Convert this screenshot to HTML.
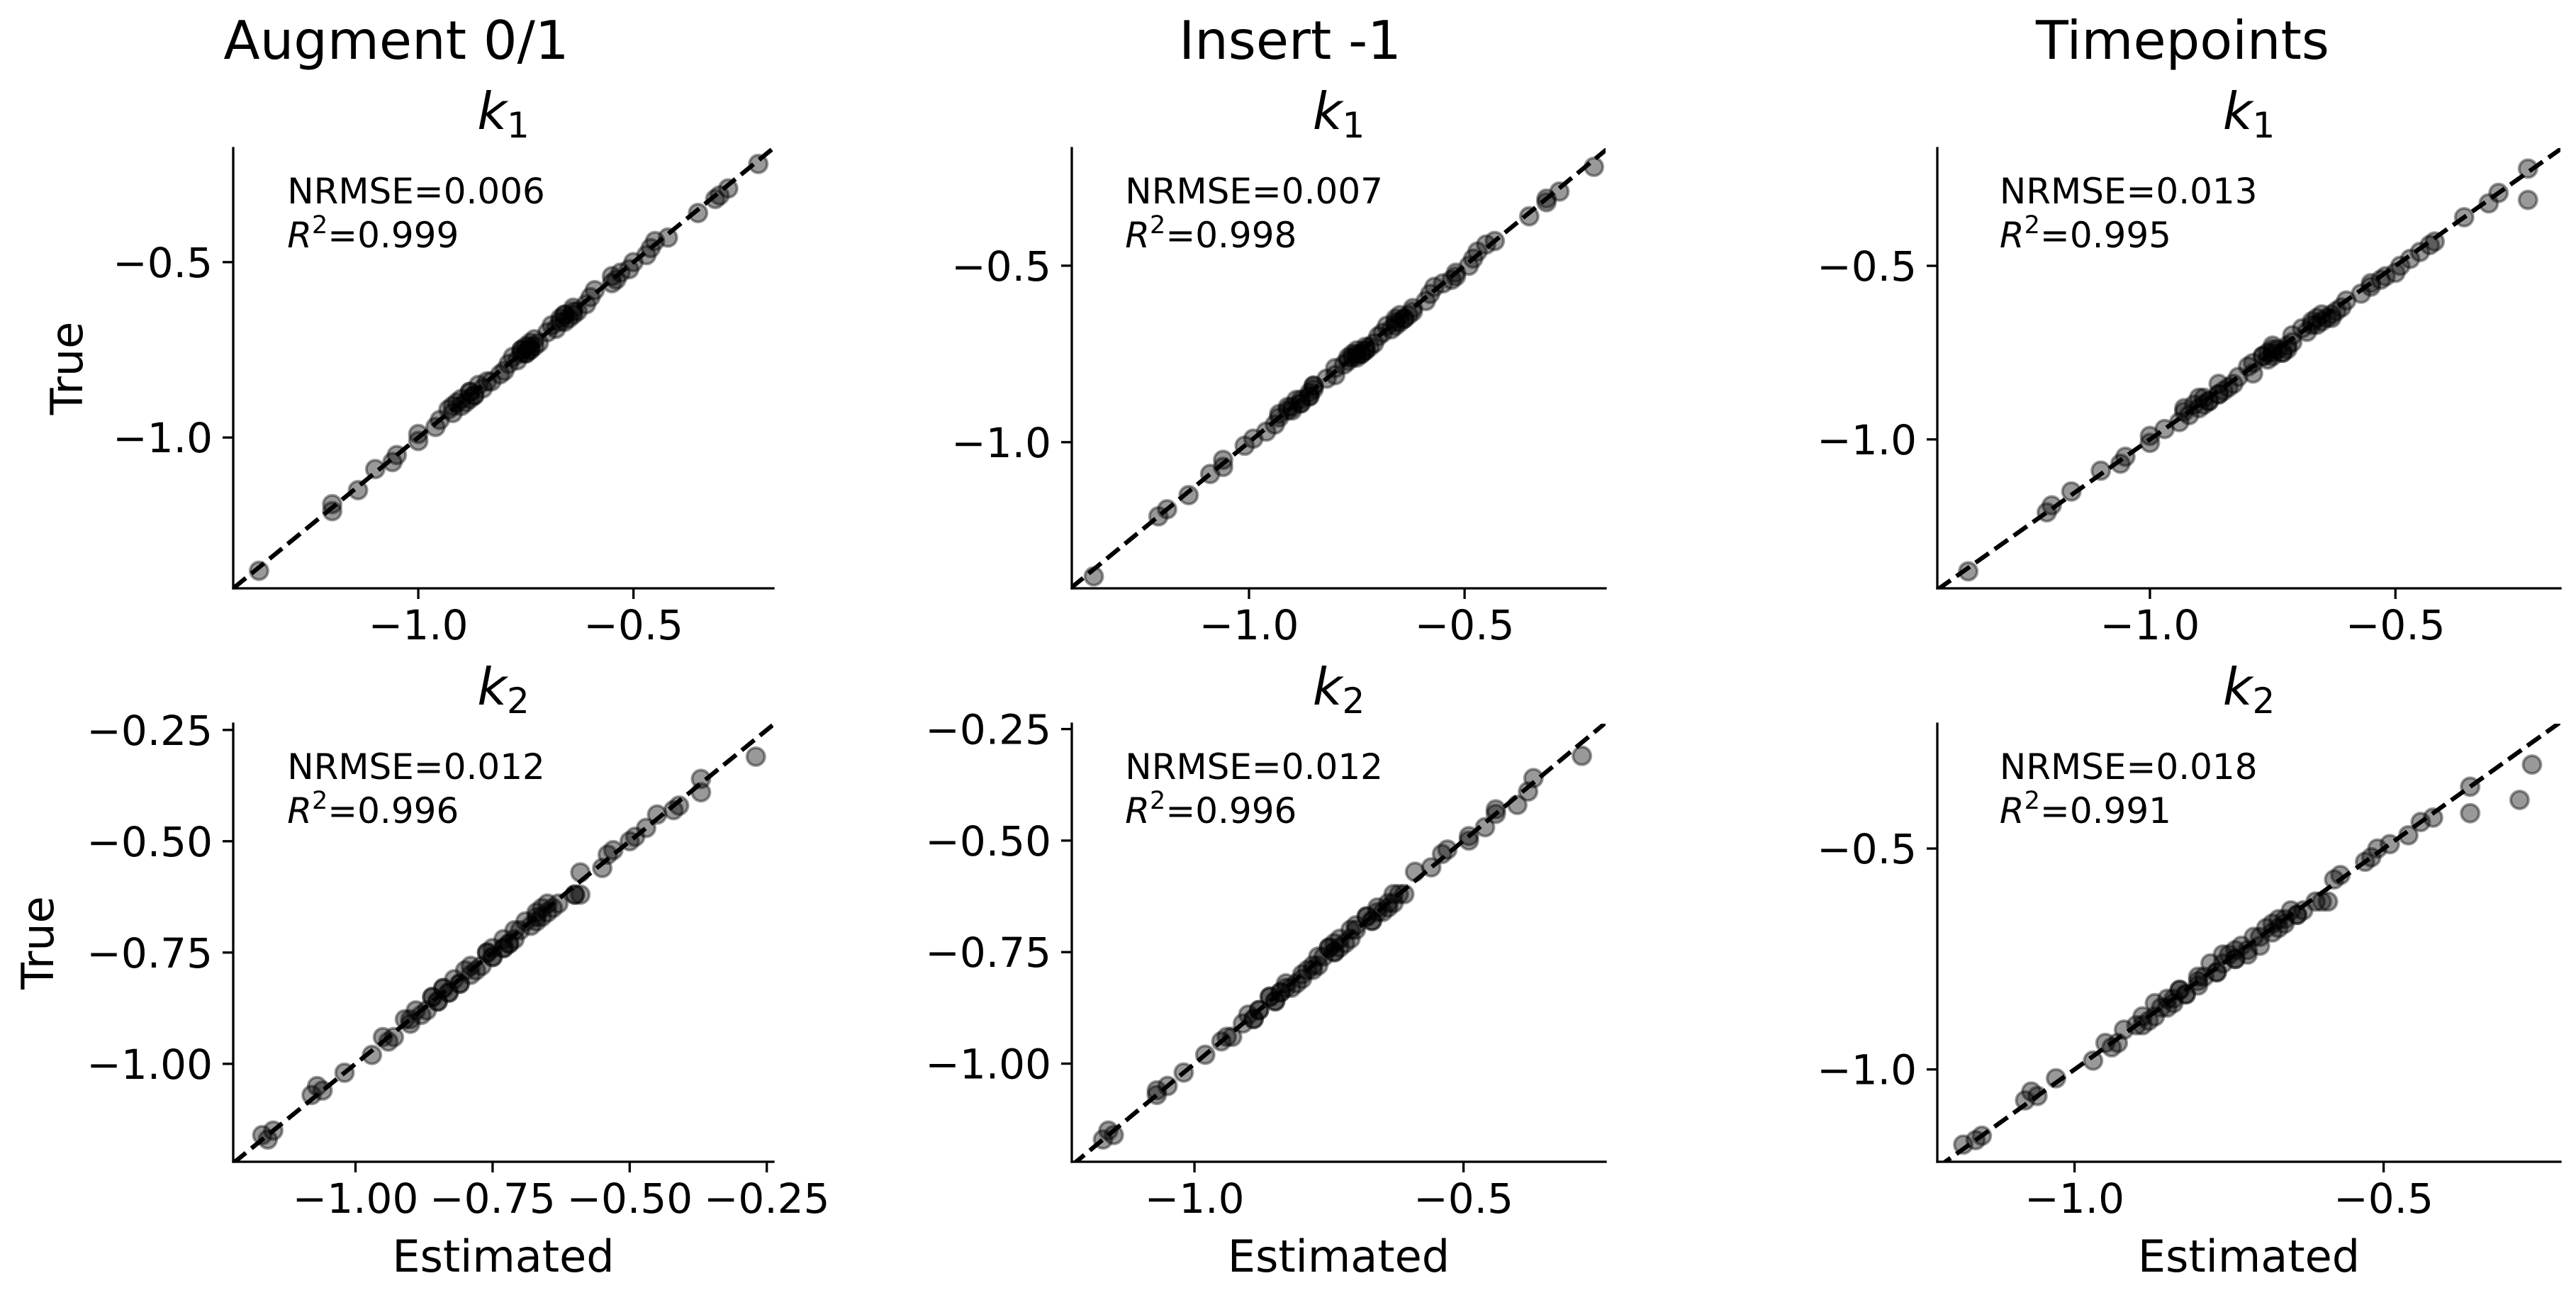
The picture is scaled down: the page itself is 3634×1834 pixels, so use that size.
<!DOCTYPE html>
<html><head><meta charset="utf-8">
<style>
html,body{margin:0;padding:0;background:#fff;}
svg{display:block;font-family:"DejaVu Sans","Liberation Sans",sans-serif;}
</style></head>
<body>
<svg id="fig" width="3634" height="1834" viewBox="0 0 3634 1834" xmlns="http://www.w3.org/2000/svg">
<rect width="3634" height="1834" fill="#fff"/>
<text x="559" y="83" font-size="75" text-anchor="middle">Augment 0/1</text>
<text x="1820" y="83" font-size="75" text-anchor="middle">Insert -1</text>
<text x="3079" y="83" font-size="75" text-anchor="middle">Timepoints</text>
</svg>
<script>
const NS = "http://www.w3.org/2000/svg";
const svg = document.getElementById('fig');

const k1True = [-1.38,-1.21,-1.19,-1.15,-1.09,-1.07,-1.05,-1.01,-0.99,-0.97,-0.95,-0.92,-0.91,-0.90,-0.89,-0.88,-0.87,-0.86,-0.84,-0.82,-0.81,-0.79,-0.77,-0.76,-0.75,-0.75,-0.74,-0.73,-0.72,-0.70,-0.69,-0.67,-0.66,-0.65,-0.64,-0.62,-0.60,-0.58,-0.55,-0.53,-0.52,-0.50,-0.48,-0.46,-0.44,-0.43,-0.36,-0.32,-0.31,-0.29,-0.22,
 -0.93,-0.91,-0.90,-0.89,-0.88,-0.87,-0.85,-0.84,-0.78,-0.76,-0.76,-0.75,-0.75,-0.74,-0.74,-0.73,-0.68,-0.67,-0.66,-0.65,-0.65,-0.64,-0.63,-0.56,-0.54];
const k1EstAug = [-1.37,-1.20,-1.20,-1.14,-1.10,-1.06,-1.05,-1.00,-1.00,-0.96,-0.95,-0.93,-0.90,-0.91,-0.88,-0.87,-0.88,-0.85,-0.84,-0.81,-0.80,-0.79,-0.78,-0.75,-0.76,-0.74,-0.74,-0.72,-0.73,-0.70,-0.68,-0.67,-0.65,-0.66,-0.64,-0.61,-0.60,-0.59,-0.54,-0.53,-0.51,-0.50,-0.47,-0.46,-0.45,-0.42,-0.35,-0.31,-0.30,-0.28,-0.21,
 -0.92,-0.92,-0.89,-0.90,-0.87,-0.88,-0.86,-0.83,-0.77,-0.76,-0.75,-0.76,-0.74,-0.75,-0.73,-0.74,-0.69,-0.66,-0.67,-0.64,-0.66,-0.63,-0.64,-0.55,-0.55];
const k1EstIns = [-1.36,-1.21,-1.19,-1.14,-1.09,-1.06,-1.06,-1.01,-0.99,-0.96,-0.94,-0.93,-0.91,-0.90,-0.88,-0.88,-0.86,-0.86,-0.85,-0.82,-0.80,-0.80,-0.77,-0.76,-0.75,-0.74,-0.73,-0.73,-0.71,-0.70,-0.69,-0.66,-0.66,-0.64,-0.63,-0.62,-0.59,-0.58,-0.55,-0.52,-0.52,-0.49,-0.48,-0.47,-0.45,-0.43,-0.35,-0.31,-0.31,-0.28,-0.20,
 -0.93,-0.90,-0.91,-0.88,-0.89,-0.86,-0.85,-0.85,-0.78,-0.75,-0.77,-0.74,-0.76,-0.73,-0.75,-0.72,-0.67,-0.68,-0.65,-0.66,-0.64,-0.65,-0.62,-0.57,-0.53];
const k1EstTime = [-1.37,-1.21,-1.20,-1.16,-1.10,-1.06,-1.05,-1.00,-1.00,-0.97,-0.94,-0.93,-0.90,-0.91,-0.88,-0.89,-0.86,-0.85,-0.83,-0.82,-0.79,-0.80,-0.76,-0.77,-0.75,-0.73,-0.74,-0.72,-0.71,-0.71,-0.68,-0.67,-0.65,-0.64,-0.63,-0.61,-0.60,-0.57,-0.55,-0.52,-0.50,-0.49,-0.47,-0.45,-0.43,-0.42,-0.36,-0.31,-0.23,-0.29,-0.23,
 -0.92,-0.93,-0.89,-0.88,-0.90,-0.86,-0.84,-0.86,-0.79,-0.75,-0.77,-0.76,-0.73,-0.75,-0.72,-0.75,-0.69,-0.66,-0.67,-0.66,-0.63,-0.65,-0.62,-0.55,-0.53];

const k2True = [-1.17,-1.16,-1.15,-1.07,-1.06,-1.05,-1.02,-0.98,-0.95,-0.94,-0.94,-0.90,-0.89,-0.88,-0.86,-0.85,-0.84,-0.83,-0.82,-0.80,-0.79,-0.78,-0.76,-0.75,-0.74,-0.73,-0.72,-0.70,-0.68,-0.67,-0.66,-0.65,-0.64,-0.62,-0.62,-0.57,-0.56,-0.53,-0.52,-0.50,-0.49,-0.47,-0.44,-0.43,-0.42,-0.39,-0.36,-0.31,
 -0.91,-0.90,-0.88,-0.86,-0.85,-0.84,-0.83,-0.82,-0.81,-0.79,-0.78,-0.76,-0.75,-0.74,-0.74,-0.73,-0.72,-0.70,-0.69,-0.68,-0.67,-0.66,-0.65,-0.64,-0.62];
const k2EstAug = [-1.16,-1.17,-1.15,-1.08,-1.06,-1.07,-1.02,-0.97,-0.94,-0.93,-0.95,-0.90,-0.88,-0.89,-0.85,-0.86,-0.83,-0.84,-0.81,-0.79,-0.80,-0.77,-0.75,-0.76,-0.73,-0.72,-0.73,-0.70,-0.67,-0.67,-0.65,-0.66,-0.63,-0.60,-0.59,-0.59,-0.55,-0.54,-0.53,-0.50,-0.49,-0.47,-0.45,-0.42,-0.41,-0.37,-0.37,-0.27,
 -0.90,-0.91,-0.87,-0.85,-0.86,-0.83,-0.84,-0.81,-0.82,-0.78,-0.79,-0.75,-0.76,-0.73,-0.75,-0.72,-0.71,-0.71,-0.68,-0.69,-0.66,-0.67,-0.64,-0.65,-0.60];
const k2EstIns = [-1.17,-1.15,-1.16,-1.07,-1.07,-1.05,-1.02,-0.98,-0.95,-0.93,-0.94,-0.89,-0.90,-0.88,-0.85,-0.86,-0.84,-0.83,-0.81,-0.80,-0.78,-0.78,-0.76,-0.74,-0.75,-0.72,-0.73,-0.71,-0.67,-0.68,-0.66,-0.64,-0.64,-0.61,-0.62,-0.59,-0.56,-0.54,-0.53,-0.49,-0.49,-0.46,-0.44,-0.44,-0.40,-0.38,-0.37,-0.28,
 -0.91,-0.89,-0.88,-0.85,-0.86,-0.84,-0.82,-0.83,-0.80,-0.79,-0.77,-0.77,-0.74,-0.75,-0.73,-0.74,-0.71,-0.70,-0.70,-0.67,-0.68,-0.65,-0.66,-0.63,-0.63];
const k2EstTime = [-1.18,-1.16,-1.15,-1.08,-1.06,-1.07,-1.03,-0.97,-0.94,-0.95,-0.93,-0.90,-0.88,-0.89,-0.85,-0.87,-0.84,-0.82,-0.83,-0.80,-0.79,-0.77,-0.76,-0.74,-0.75,-0.72,-0.73,-0.70,-0.67,-0.68,-0.66,-0.64,-0.63,-0.60,-0.59,-0.58,-0.57,-0.53,-0.52,-0.51,-0.49,-0.46,-0.44,-0.42,-0.36,-0.28,-0.36,-0.26,
 -0.92,-0.89,-0.87,-0.86,-0.84,-0.85,-0.82,-0.83,-0.80,-0.80,-0.77,-0.78,-0.74,-0.76,-0.72,-0.74,-0.70,-0.71,-0.68,-0.69,-0.66,-0.67,-0.64,-0.65,-0.61];

const xTicksK1 = [-1.0, -0.5];
const xTickLabelsK1 = ["\u22121.0", "\u22120.5"];
const yTicksK1 = [-1.0, -0.5];
const yTickLabelsK1 = ["\u22121.0", "\u22120.5"];
const ticksK2Fine = [-1.0, -0.75, -0.5, -0.25];
const tickLabelsK2Fine = ["\u22121.00", "\u22120.75", "\u22120.50", "\u22120.25"];
const ticksK2Coarse = [-1.0, -0.5];
const tickLabelsK2Coarse = ["\u22121.0", "\u22120.5"];

const nrmseLabels = ["0.006","0.007","0.013","0.012","0.012","0.018"];
const r2Labels = ["0.999","0.998","0.995","0.996","0.996","0.991"];

const panels = [
 {row:0,col:0,left:329,w:762,top:209,bot:830,xl:[-1.43,-0.175],yl:[-1.43,-0.175],est:k1EstAug,tru:k1True,xt:xTicksK1,xtl:xTickLabelsK1,yt:yTicksK1,ytl:yTickLabelsK1,sub:"1",name:"augment-k1"},
 {row:0,col:1,left:1512,w:753,top:209,bot:830,xl:[-1.411,-0.173],yl:[-1.414,-0.167],est:k1EstIns,tru:k1True,xt:xTicksK1,xtl:xTickLabelsK1,yt:yTicksK1,ytl:yTickLabelsK1,sub:"1",name:"insert-k1"},
 {row:0,col:2,left:2733,w:879,top:209,bot:830,xl:[-1.433,-0.164],yl:[-1.429,-0.161],est:k1EstTime,tru:k1True,xt:xTicksK1,xtl:xTickLabelsK1,yt:yTicksK1,ytl:yTickLabelsK1,sub:"1",name:"timepoints-k1"},
 {row:1,col:0,left:329,w:762,top:1021,bot:1639,xl:[-1.223,-0.238],yl:[-1.22,-0.236],est:k2EstAug,tru:k2True,xt:ticksK2Fine,xtl:tickLabelsK2Fine,yt:ticksK2Fine,ytl:tickLabelsK2Fine,sub:"2",name:"augment-k2"},
 {row:1,col:1,left:1512,w:753,top:1021,bot:1639,xl:[-1.228,-0.236],yl:[-1.22,-0.238],est:k2EstIns,tru:k2True,xt:ticksK2Coarse,xtl:tickLabelsK2Coarse,yt:ticksK2Fine,ytl:tickLabelsK2Fine,sub:"2",name:"insert-k2"},
 {row:1,col:2,left:2733,w:879,top:1021,bot:1639,xl:[-1.222,-0.214],yl:[-1.209,-0.2175],est:k2EstTime,tru:k2True,xt:ticksK2Coarse,xtl:tickLabelsK2Coarse,yt:ticksK2Coarse,ytl:tickLabelsK2Coarse,sub:"2",name:"timepoints-k2"}
];

function mk(tag, attrs, parent){
  const e = document.createElementNS(NS, tag);
  for (const k in attrs) e.setAttribute(k, attrs[k]);
  (parent||svg).appendChild(e);
  return e;
}

panels.forEach((p, i) => {
  const right = p.left + p.w;
  const xs = v => p.left + (v - p.xl[0]) / (p.xl[1] - p.xl[0]) * p.w;
  const ys = v => p.bot - (v - p.yl[0]) / (p.yl[1] - p.yl[0]) * (p.bot - p.top);
  const g = mk('g', {});
  
  

  const cid = 'clip' + i;
  const cp = mk('clipPath', {id: cid}, g);
  mk('rect', {x:p.left, y:p.top, width:p.w, height:p.bot-p.top}, cp);

  const pts = mk('g', {'clip-path':'url(#'+cid+')'}, g);
  
  
  const n = Math.min(p.est.length, p.tru.length);
  for (let j = 0; j < n; j++) {
    const c = mk('circle', {cx: xs(p.est[j]), cy: ys(p.tru[j]), r: 12.5, fill:'rgba(0,0,0,0.4)', stroke:'rgba(0,0,0,0.4)', 'stroke-width':4}, pts);
    
    
  }
  const lo = Math.min(p.xl[0], p.yl[0]), hi = Math.max(p.xl[1], p.yl[1]);
  const dl = mk('line', {x1: xs(lo), y1: ys(lo), x2: xs(hi), y2: ys(hi), stroke:'#000', 'stroke-width':6.25, 'stroke-dasharray':'23 10', 'clip-path':'url(#'+cid+')'}, g);
  
  

  const sl = mk('line', {x1:p.left, y1:p.top, x2:p.left, y2:p.bot, stroke:'#000', 'stroke-width':3.3, 'stroke-linecap':'square'}, g);
  
  
  const sb = mk('line', {x1:p.left, y1:p.bot, x2:right, y2:p.bot, stroke:'#000', 'stroke-width':3.3, 'stroke-linecap':'square'}, g);
  
  

  p.xt.forEach((v, k) => {
    const x = xs(v);
    mk('line', {x1:x, y1:p.bot, x2:x, y2:p.bot+15, stroke:'#000', 'stroke-width':3.3}, g);
    const t = mk('text', {x:x, y:p.bot+72, 'font-size':58, 'text-anchor':'middle'}, g);
    t.textContent = p.xtl[k];
    
    
  });
  p.yt.forEach((v, k) => {
    const y = ys(v);
    mk('line', {x1:p.left-15, y1:y, x2:p.left, y2:y, stroke:'#000', 'stroke-width':3.3}, g);
    const t = mk('text', {x:p.left-29, y:y+21, 'font-size':58, 'text-anchor':'end'}, g);
    t.textContent = p.ytl[k];
    
    
  });

  const tt = mk('text', {x:(p.left+right)/2, y:p.top-27, 'font-size':72, 'text-anchor':'middle'}, g);
  
  
  const tk = mk('tspan', {'font-style':'italic'}, tt); tk.textContent = 'k';
  const ts = mk('tspan', {'font-size':50, dy:12}, tt); ts.textContent = p.sub;

  const tx = p.left + 0.1 * p.w;
  const m1 = mk('text', {x:tx, y:p.top+78, 'font-size':50}, g);
  m1.textContent = 'NRMSE=' + nrmseLabels[i];
  
  
  const m2 = mk('text', {x:tx, y:p.top+140, 'font-size':50}, g);
  
  
  const r = mk('tspan', {'font-style':'italic'}, m2); r.textContent = 'R';
  const s2 = mk('tspan', {'font-size':35, dy:-20}, m2); s2.textContent = '2';
  const rv = mk('tspan', {dy:20}, m2); rv.textContent = '=' + r2Labels[i];

  if (p.col === 0) {
    const cy = (p.top + p.bot) / 2;
    const lx = p.row === 0 ? 116 : 75;
    const yl = mk('text', {x:lx, y:cy, 'font-size':62, 'text-anchor':'middle', transform:'rotate(-90 '+lx+' '+cy+')'}, g);
    yl.textContent = 'True';
    
    
  }
  if (p.row === 1) {
    const xl = mk('text', {x:(p.left+right)/2, y:1794, 'font-size':62, 'text-anchor':'middle'}, g);
    xl.textContent = 'Estimated';
    
    
  }
});
</script>
</body></html>
